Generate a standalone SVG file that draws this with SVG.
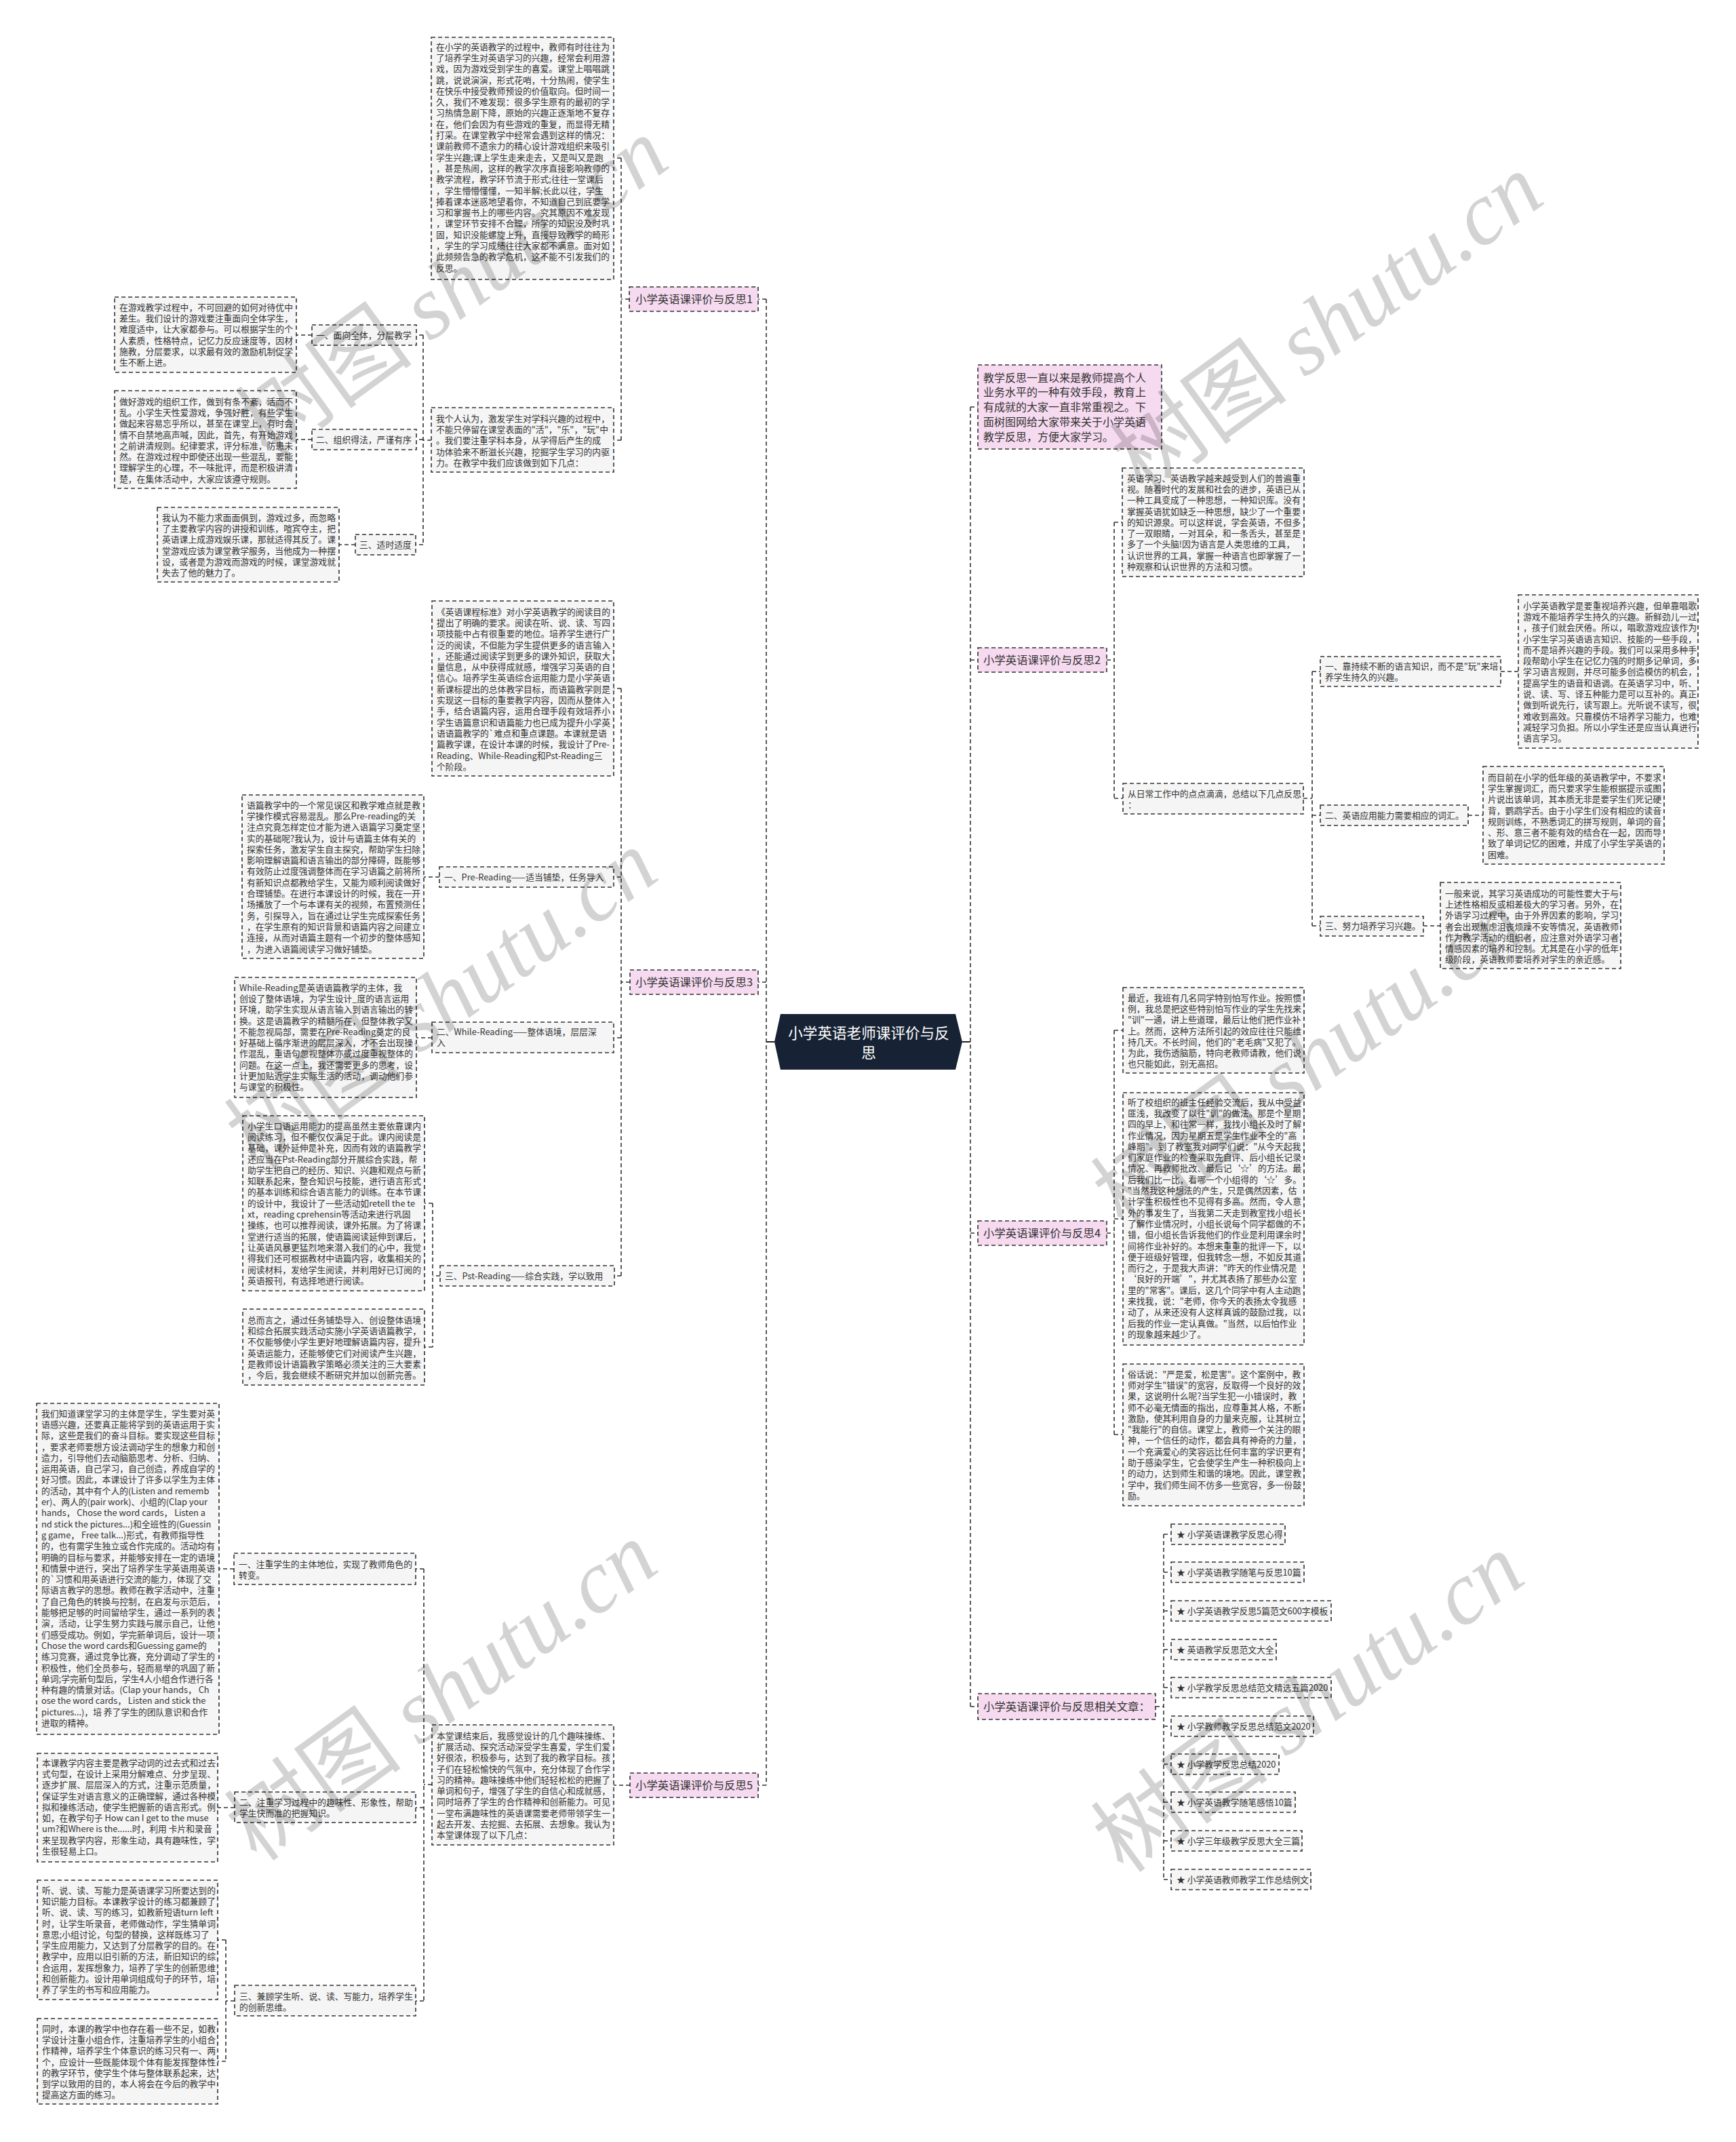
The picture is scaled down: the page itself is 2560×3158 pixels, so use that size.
<svg xmlns="http://www.w3.org/2000/svg" width="2560" height="3158" viewBox="0 0 2560 3158">
<style>
.box{fill:#f5f5f5;stroke:#333;stroke-width:1.6;stroke-dasharray:6 4}
.lab{fill:#f6daf0;stroke:#333;stroke-width:1.6;stroke-dasharray:6 4}
.t{font-family:"Noto Sans CJK SC","Microsoft YaHei",sans-serif;font-size:12.8px;fill:#333}
.tl{font-family:"Noto Sans CJK SC","Microsoft YaHei",sans-serif;font-size:16.4px;fill:#333}
.ti{font-family:"Noto Sans CJK SC","Microsoft YaHei",sans-serif;font-size:16px;fill:#333}
.tc{font-family:"Noto Sans CJK SC","Microsoft YaHei",sans-serif;font-size:21.6px;fill:#fff}
.ln{fill:none;stroke:#333;stroke-width:1.6;stroke-dasharray:6 4}
.sl{fill:none;stroke:#222;stroke-width:2}
.wm{font-family:"Noto Sans CJK SC","Liberation Serif",serif;font-size:132px;fill:#000;opacity:.17}
</style>
<rect width="2560" height="3158" fill="#fff"/>
<g id="connectors">
<path class="sl" d="M1142,1536 H1130 M1419,1536 H1431"/>
<path class="ln" d="M1130,441 V2632 M1130,441 H1118 M1130,1448 H1118 M1130,2632 H1118"/>
<path class="ln" d="M928,441 H916 M916,233 V649 M916,233 H905 M916,649 H905"/>
<path class="ln" d="M636,649 H624 M624,494 V803 M624,494 H614 M624,648 H614 M624,803 H613"/>
<path class="ln" d="M460,494 H437 M460,648 H437 M524,803 H500"/>
<path class="ln" d="M929,1448 H916 M916,1015 V1881 M916,1015 H905 M916,1293 H905 M916,1530 H905 M916,1881 H906"/>
<path class="ln" d="M648,1293 H625 M637,1530 H614 M649,1881 H638 M638,1774 V1986 M638,1774 H626 M638,1986 H626"/>
<path class="ln" d="M929,2632 H904 M637,2631 H625 M625,2313 V2950 M625,2313 H613 M625,2665 H613 M625,2950 H613"/>
<path class="ln" d="M345,2313 H323 M346,2665 H321 M346,2950 H333 M333,2860 V3039 M333,2860 H321 M333,3039 H321"/>
<path class="ln" d="M1431,600 V2516 M1431,600 H1442 M1431,973 H1442 M1431,1818 H1442 M1431,2516 H1442"/>
<path class="ln" d="M1632,973 H1643 M1643,770 V1177 M1643,770 H1655 M1643,1177 H1656"/>
<path class="ln" d="M1922,1177 H1935 M1935,990 V1365 M1935,990 H1947 M1935,1202 H1947 M1935,1365 H1947"/>
<path class="ln" d="M2213,990 H2239 M2165,1202 H2187 M2099,1365 H2124"/>
<path class="ln" d="M1632,1818 H1643 M1643,1519 V2115 M1643,1519 H1656 M1643,1797 H1656 M1643,2115 H1656"/>
<path class="ln" d="M1704,2516 H1716 M1716,2262 V2771 M1716,2262 H1727 M1716,2318 H1727 M1716,2375 H1727 M1716,2432 H1727 M1716,2488 H1727 M1716,2545 H1727 M1716,2601 H1727 M1716,2657 H1727 M1716,2714 H1727 M1716,2771 H1727"/>
</g>

<g id="center">
<polygon points="1142,1536 1151,1495 1409,1495 1419,1536 1409,1577 1151,1577" fill="#172334"/>
<text class="tc" text-anchor="middle"><tspan x="1281" y="1530.8">小学英语老师课评价与反</tspan><tspan x="1281" y="1559.8">思</tspan></text>
</g>

<g id="branch1">
<rect class="lab" x="928" y="423" width="190" height="36"/>
<text class="tl" x="937" y="446.9">小学英语课评价与反思1</text>
</g>
<g id="b1a">
<rect class="box" x="636" y="55" width="269" height="357"/>
<text class="t" x="643" y="73.6"><tspan x="643">在小学的英语教学的过程中，教师有时往往为</tspan><tspan x="643" dy="16.3">了培养学生对英语学习的兴趣，经常会利用游</tspan><tspan x="643" dy="16.3">戏，因为游戏受到学生的喜爱。课堂上唱唱跳</tspan><tspan x="643" dy="16.3">跳，说说演演，形式花哨，十分热闹，使学生</tspan><tspan x="643" dy="16.3">在快乐中接受教师预设的价值取向。但时间一</tspan><tspan x="643" dy="16.3">久，我们不难发现：很多学生原有的最初的学</tspan><tspan x="643" dy="16.3">习热情急剧下降，原始的兴趣正逐渐地不复存</tspan><tspan x="643" dy="16.3">在，他们会因为有些游戏的重复，而显得无精</tspan><tspan x="643" dy="16.3">打采。在课堂教学中经常会遇到这样的情况：</tspan><tspan x="643" dy="16.3">课前教师不遗余力的精心设计游戏组织来吸引</tspan><tspan x="643" dy="16.3">学生兴趣;课上学生走来走去，又是叫又是跑</tspan><tspan x="643" dy="16.3">，甚是热闹，这样的教学次序直接影响教师的</tspan><tspan x="643" dy="16.3">教学流程，教学环节流于形式;往往一堂课后</tspan><tspan x="643" dy="16.3">，学生懵懵懂懂，一知半解;长此以往，学生</tspan><tspan x="643" dy="16.3">捧着课本迷惑地望着你，不知道自己到底要学</tspan><tspan x="643" dy="16.3">习和掌握书上的哪些内容。究其原因不难发现</tspan><tspan x="643" dy="16.3">，课堂环节安排不合理，所学的知识没及时巩</tspan><tspan x="643" dy="16.3">固，知识没能螺旋上升，直接导致教学的畸形</tspan><tspan x="643" dy="16.3">，学生的学习成绩往往大家都不满意。面对如</tspan><tspan x="643" dy="16.3">此频频告急的教学危机，这不能不引发我们的</tspan><tspan x="643" dy="16.3">反思。</tspan></text>
</g>
<g id="b1d">
<rect class="box" x="636" y="601" width="269" height="95"/>
<text class="t" x="643" y="621.6"><tspan x="643">我个人认为，激发学生对学科兴趣的过程中，</tspan><tspan x="643" dy="16.3">不能只停留在课堂表面的"活"，"乐"，"玩"中</tspan><tspan x="643" dy="16.3">。我们要注重学科本身，从学得后产生的成</tspan><tspan x="643" dy="16.3">功体验来不断滋长兴趣，挖掘学生学习的内驱</tspan><tspan x="643" dy="16.3">力。在教学中我们应该做到如下几点：</tspan></text>
</g>
<g id="b1-1">
<rect class="box" x="460" y="479" width="154" height="30"/>
<text class="t" x="466" y="498.6">一、面向全体，分层教学</text>
</g>
<g id="b1b">
<rect class="box" x="169" y="438" width="268" height="111"/>
<text class="t" x="176" y="457.6"><tspan x="176">在游戏教学过程中，不可回避的如何对待优中</tspan><tspan x="176" dy="16.3">差生。我们设计的游戏要注重面向全体学生，</tspan><tspan x="176" dy="16.3">难度适中，让大家都参与。可以根据学生的个</tspan><tspan x="176" dy="16.3">人素质，性格特点，记忆力反应速度等，因材</tspan><tspan x="176" dy="16.3">施教，分层要求，以求最有效的激励机制促学</tspan><tspan x="176" dy="16.3">生不断上进。</tspan></text>
</g>
<g id="b1-2">
<rect class="box" x="460" y="633" width="154" height="30"/>
<text class="t" x="466" y="652.6">二、组织得法，严谨有序</text>
</g>
<g id="b1c">
<rect class="box" x="169" y="576" width="268" height="144"/>
<text class="t" x="176" y="596.6"><tspan x="176">做好游戏的组织工作，做到有条不紊，活而不</tspan><tspan x="176" dy="16.3">乱。小学生天性爱游戏，争强好胜，有些学生</tspan><tspan x="176" dy="16.3">做起来容易忘乎所以，甚至在课堂上，有时会</tspan><tspan x="176" dy="16.3">情不自禁地高声喊，因此，首先，有开始游戏</tspan><tspan x="176" dy="16.3">之前讲清规则。纪律要求，评分标准，防患未</tspan><tspan x="176" dy="16.3">然。在游戏过程中即使还出现一些混乱，要能</tspan><tspan x="176" dy="16.3">理解学生的心理，不一味批评，而是积极讲清</tspan><tspan x="176" dy="16.3">楚，在集体活动中，大家应该遵守规则。</tspan></text>
</g>
<g id="b1-3">
<rect class="box" x="524" y="788" width="89" height="30"/>
<text class="t" x="530" y="807.6">三、适时适度</text>
</g>
<g id="b1e">
<rect class="box" x="232" y="748" width="268" height="110"/>
<text class="t" x="239" y="767.6"><tspan x="239">我认为不能力求面面俱到，游戏过多，而忽略</tspan><tspan x="239" dy="16.3">了主要教学内容的讲授和训练，喧宾夺主，把</tspan><tspan x="239" dy="16.3">英语课上成游戏娱乐课，那就适得其反了。课</tspan><tspan x="239" dy="16.3">堂游戏应该为课堂教学服务，当他成为一种摆</tspan><tspan x="239" dy="16.3">设，或者是为游戏而游戏的时候，课堂游戏就</tspan><tspan x="239" dy="16.3">失去了他的魅力了。</tspan></text>
</g>

<g id="branch3">
<rect class="lab" x="929" y="1430" width="189" height="36"/>
<text class="tl" x="937" y="1453.9">小学英语课评价与反思3</text>
</g>
<g id="b3a">
<rect class="box" x="637" y="886" width="268" height="258"/>
<text class="t" x="644" y="906.6"><tspan x="644">《英语课程标准》对小学英语教学的阅读目的</tspan><tspan x="644" dy="16.3">提出了明确的要求。阅读在听、说、读、写四</tspan><tspan x="644" dy="16.3">项技能中占有很重要的地位。培养学生进行广</tspan><tspan x="644" dy="16.3">泛的阅读，不但能为学生提供更多的语言输入</tspan><tspan x="644" dy="16.3">，还能通过阅读学到更多的课外知识，获取大</tspan><tspan x="644" dy="16.3">量信息，从中获得成就感，增强学习英语的自</tspan><tspan x="644" dy="16.3">信心。培养学生英语综合运用能力是小学英语</tspan><tspan x="644" dy="16.3">新课标提出的总体教学目标，而语篇教学则是</tspan><tspan x="644" dy="16.3">实现这一目标的重要教学内容，因而从整体入</tspan><tspan x="644" dy="16.3">手，结合语篇内容，运用合理手段有效培养小</tspan><tspan x="644" dy="16.3">学生语篇意识和语篇能力也已成为提升小学英</tspan><tspan x="644" dy="16.3">语语篇教学的`难点和重点课题。本课就是语</tspan><tspan x="644" dy="16.3">篇教学课，在设计本课的时候，我设计了Pre-</tspan><tspan x="644" dy="16.3">Reading、While-Reading和Pst-Reading三</tspan><tspan x="644" dy="16.3">个阶段。</tspan></text>
</g>
<g id="b3-1">
<rect class="box" x="648" y="1278" width="257" height="30"/>
<text class="t" x="655" y="1297.6">一、Pre-Reading——适当铺垫，任务导入</text>
</g>
<g id="b3b">
<rect class="box" x="357" y="1172" width="268" height="241"/>
<text class="t" x="364" y="1191.6"><tspan x="364">语篇教学中的一个常见误区和教学难点就是教</tspan><tspan x="364" dy="16.3">学操作模式容易混乱。那么Pre-reading的关</tspan><tspan x="364" dy="16.3">注点究竟怎样定位才能为进入语篇学习奠定坚</tspan><tspan x="364" dy="16.3">实的基础呢?我认为，设计与语篇主体有关的</tspan><tspan x="364" dy="16.3">探索任务，激发学生自主探究，帮助学生扫除</tspan><tspan x="364" dy="16.3">影响理解语篇和语言输出的部分障碍，既能够</tspan><tspan x="364" dy="16.3">有效防止过度强调整体而在学习语篇之前将所</tspan><tspan x="364" dy="16.3">有新知识点都教给学生，又能为顺利阅读做好</tspan><tspan x="364" dy="16.3">合理铺垫。在进行本课设计的时候，我在一开</tspan><tspan x="364" dy="16.3">场播放了一个与本课有关的视频，布置预测任</tspan><tspan x="364" dy="16.3">务，引探导入，旨在通过让学生完成探索任务</tspan><tspan x="364" dy="16.3">，在学生原有的知识背景和语篇内容之间建立</tspan><tspan x="364" dy="16.3">连接，从而对语篇主题有一个初步的整体感知</tspan><tspan x="364" dy="16.3">，为进入语篇阅读学习做好铺垫。</tspan></text>
</g>
<g id="b3-2">
<rect class="box" x="637" y="1507" width="268" height="45"/>
<text class="t" x="644" y="1525.6"><tspan x="644">二、While-Reading——整体语境，层层深</tspan><tspan x="644" dy="16.3">入</tspan></text>
</g>
<g id="b3c">
<rect class="box" x="346" y="1441" width="268" height="177"/>
<text class="t" x="353" y="1460.6"><tspan x="353">While-Reading是英语语篇教学的主体，我</tspan><tspan x="353" dy="16.3">创设了整体语境，为学生设计_度的语言运用</tspan><tspan x="353" dy="16.3">环境，助学生实现从语言输入到语言输出的转</tspan><tspan x="353" dy="16.3">换。这是语篇教学的精髓所在，但整体教学又</tspan><tspan x="353" dy="16.3">不能忽视局部，需要在Pre-Reading奠定的良</tspan><tspan x="353" dy="16.3">好基础上循序渐进的层层深入，才不会出现操</tspan><tspan x="353" dy="16.3">作混乱，重语句忽视整体亦或过度重视整体的</tspan><tspan x="353" dy="16.3">问题。在这一点上，我还需要更多的思考，设</tspan><tspan x="353" dy="16.3">计更加贴近学生实际生活的活动，调动他们参</tspan><tspan x="353" dy="16.3">与课堂的积极性。</tspan></text>
</g>
<g id="b3-3">
<rect class="box" x="649" y="1866" width="257" height="30"/>
<text class="t" x="656" y="1885.6">三、Pst-Reading——综合实践，学以致用</text>
</g>
<g id="b3d">
<rect class="box" x="358" y="1645" width="268" height="258"/>
<text class="t" x="365" y="1664.6"><tspan x="365">小学生口语运用能力的提高虽然主要依靠课内</tspan><tspan x="365" dy="16.3">阅读练习，但不能仅仅满足于此。课内阅读是</tspan><tspan x="365" dy="16.3">基础，课外延伸是补充，因而有效的语篇教学</tspan><tspan x="365" dy="16.3">还应当在Pst-Reading部分开展综合实践，帮</tspan><tspan x="365" dy="16.3">助学生把自己的经历、知识、兴趣和观点与新</tspan><tspan x="365" dy="16.3">知联系起来，整合知识与技能，进行语言形式</tspan><tspan x="365" dy="16.3">的基本训练和综合语言能力的训练。在本节课</tspan><tspan x="365" dy="16.3">的设计中，我设计了一些活动如retell the te</tspan><tspan x="365" dy="16.3">xt，reading cprehensin等活动来进行巩固</tspan><tspan x="365" dy="16.3">操练，也可以推荐阅读，课外拓展。为了将课</tspan><tspan x="365" dy="16.3">堂进行适当的拓展，使语篇阅读延伸到课后，</tspan><tspan x="365" dy="16.3">让英语风暴更猛烈地来潜入我们的心中，我觉</tspan><tspan x="365" dy="16.3">得我们还可根据教材中语篇内容，收集相关的</tspan><tspan x="365" dy="16.3">阅读材料，发给学生阅读，并利用好已订阅的</tspan><tspan x="365" dy="16.3">英语报刊，有选择地进行阅读。</tspan></text>
</g>
<g id="b3e">
<rect class="box" x="358" y="1930" width="268" height="112"/>
<text class="t" x="365" y="1950.6"><tspan x="365">总而言之，通过任务铺垫导入、创设整体语境</tspan><tspan x="365" dy="16.3">和综合拓展实践活动实施小学英语语篇教学，</tspan><tspan x="365" dy="16.3">不仅能够使小学生更好地理解语篇内容，提升</tspan><tspan x="365" dy="16.3">英语运能力，还能够使它们对阅读产生兴趣，</tspan><tspan x="365" dy="16.3">是教师设计语篇教学策略必须关注的三大要素</tspan><tspan x="365" dy="16.3">，今后，我会继续不断研究并加以创新完善。</tspan></text>
</g>

<g id="branch5">
<rect class="lab" x="929" y="2614" width="189" height="36"/>
<text class="tl" x="937" y="2637.9">小学英语课评价与反思5</text>
</g>
<g id="b5d">
<rect class="box" x="637" y="2543" width="268" height="177"/>
<text class="t" x="644" y="2563.6"><tspan x="644">本堂课结束后，我感觉设计的几个趣味操练、</tspan><tspan x="644" dy="16.3">扩展活动、探究活动深受学生喜爱，学生们爱</tspan><tspan x="644" dy="16.3">好很浓，积极参与，达到了我的教学目标。孩</tspan><tspan x="644" dy="16.3">子们在轻松愉快的气氛中，充分体现了合作学</tspan><tspan x="644" dy="16.3">习的精神。趣味操练中他们轻轻松松的把握了</tspan><tspan x="644" dy="16.3">单词和句子，增强了学生的自信心和成就感，</tspan><tspan x="644" dy="16.3">同时培养了学生的合作精神和创新能力。可见</tspan><tspan x="644" dy="16.3">一堂布满趣味性的英语课需要老师带领学生一</tspan><tspan x="644" dy="16.3">起去开发、去挖掘、去拓展、去想象。我认为</tspan><tspan x="644" dy="16.3">本堂课体现了以下几点：</tspan></text>
</g>
<g id="b5-1">
<rect class="box" x="345" y="2290" width="268" height="46"/>
<text class="t" x="352" y="2310.6"><tspan x="352">一、注重学生的主体地位，实现了教师角色的</tspan><tspan x="352" dy="16.3">转变。</tspan></text>
</g>
<g id="b5a">
<rect class="box" x="54" y="2069" width="269" height="488"/>
<text class="t" x="61" y="2088.6"><tspan x="61">我们知道课堂学习的主体是学生，学生要对英</tspan><tspan x="61" dy="16.3">语感兴趣，还要真正能将学到的英语运用于实</tspan><tspan x="61" dy="16.3">际，这些是我们的奋斗目标。要实现这些目标</tspan><tspan x="61" dy="16.3">，要求老师要想方设法调动学生的想象力和创</tspan><tspan x="61" dy="16.3">造力，引导他们去动脑筋思考、分析、归纳、</tspan><tspan x="61" dy="16.3">运用英语，自己学习，自己创造，养成自学的</tspan><tspan x="61" dy="16.3">好习惯。因此，本课设计了许多以学生为主体</tspan><tspan x="61" dy="16.3">的活动，其中有个人的(Listen and rememb</tspan><tspan x="61" dy="16.3">er)、两人的(pair work)、小组的(Clap your</tspan><tspan x="61" dy="16.3">hands， Chose the word cards， Listen a</tspan><tspan x="61" dy="16.3">nd stick the pictures...)和全班性的(Guessin</tspan><tspan x="61" dy="16.3">g game， Free talk...)形式，有教师指导性</tspan><tspan x="61" dy="16.3">的，也有需学生独立或合作完成的。活动均有</tspan><tspan x="61" dy="16.3">明确的目标与要求，并能够安排在一定的语境</tspan><tspan x="61" dy="16.3">和情景中进行，突出了培养学生学英语用英语</tspan><tspan x="61" dy="16.3">的`习惯和用英语进行交流的能力，体现了交</tspan><tspan x="61" dy="16.3">际语言教学的思想。教师在教学活动中，注重</tspan><tspan x="61" dy="16.3">了自己角色的转换与控制，在启发与示范后，</tspan><tspan x="61" dy="16.3">能够把足够的时间留给学生，通过一系列的表</tspan><tspan x="61" dy="16.3">演，活动，让学生努力实践与展示自己，让他</tspan><tspan x="61" dy="16.3">们感受成功。例如，学完新单词后，设计一项</tspan><tspan x="61" dy="16.3">Chose the word cards和Guessing game的</tspan><tspan x="61" dy="16.3">练习竞赛，通过竞争比赛，充分调动了学生的</tspan><tspan x="61" dy="16.3">积极性，他们全员参与，轻而易举的巩固了新</tspan><tspan x="61" dy="16.3">单词;学完新句型后，学生4人小组合作进行各</tspan><tspan x="61" dy="16.3">种有趣的情景对话。(Clap your hands， Ch</tspan><tspan x="61" dy="16.3">ose the word cards， Listen and stick the</tspan><tspan x="61" dy="16.3">pictures...)，培 养了学生的团队意识和合作</tspan><tspan x="61" dy="16.3">进取的精神。</tspan></text>
</g>
<g id="b5-2">
<rect class="box" x="346" y="2642" width="267" height="45"/>
<text class="t" x="353" y="2661.6"><tspan x="353">二、注重学习过程中的趣味性、形象性，帮助</tspan><tspan x="353" dy="16.3">学生快而准的把握知识。</tspan></text>
</g>
<g id="b5b">
<rect class="box" x="55" y="2585" width="266" height="160"/>
<text class="t" x="62" y="2603.6"><tspan x="62">本课教学内容主要是教学动词的过去式和过去</tspan><tspan x="62" dy="16.3">式句型，在设计上采用分解难点、分步呈现、</tspan><tspan x="62" dy="16.3">逐步扩展、层层深入的方式，注重示范质量，</tspan><tspan x="62" dy="16.3">保证学生对语言意义的正确理解，通过各种模</tspan><tspan x="62" dy="16.3">拟和操练活动，使学生把握新的语言形式。例</tspan><tspan x="62" dy="16.3">如，在教学句子 How can I get to the muse</tspan><tspan x="62" dy="16.3">um?和Where is the......时，利用 卡片和录音</tspan><tspan x="62" dy="16.3">来呈现教学内容，形象生动，具有趣味性，学</tspan><tspan x="62" dy="16.3">生很轻易上口。</tspan></text>
</g>
<g id="b5-3">
<rect class="box" x="346" y="2927" width="267" height="45"/>
<text class="t" x="353" y="2947.6"><tspan x="353">三、兼顾学生听、说、读、写能力，培养学生</tspan><tspan x="353" dy="16.3">的创新思维。</tspan></text>
</g>
<g id="b5c">
<rect class="box" x="55" y="2772" width="266" height="176"/>
<text class="t" x="62" y="2791.6"><tspan x="62">听、说、读、写能力是英语课学习所要达到的</tspan><tspan x="62" dy="16.3">知识能力目标。本课教学设计的练习都兼顾了</tspan><tspan x="62" dy="16.3">听、说、读、写的练习，如教新短语turn left</tspan><tspan x="62" dy="16.3">时，让学生听录音，老师做动作，学生猜单词</tspan><tspan x="62" dy="16.3">意思;小组讨论，句型的替换，这样既练习了</tspan><tspan x="62" dy="16.3">学生应用能力，又达到了分层教学的目的。在</tspan><tspan x="62" dy="16.3">教学中，应用以旧引新的方法，新旧知识的综</tspan><tspan x="62" dy="16.3">合运用，发挥想象力，培养了学生的创新思维</tspan><tspan x="62" dy="16.3">和创新能力。设计用单词组成句子的环节，培</tspan><tspan x="62" dy="16.3">养了学生的书写和应用能力。</tspan></text>
</g>
<g id="b5e">
<rect class="box" x="55" y="2976" width="266" height="126"/>
<text class="t" x="62" y="2995.6"><tspan x="62">同时，本课的教学中也存在着一些不足，如教</tspan><tspan x="62" dy="16.3">学设计注重小组合作，注重培养学生的小组合</tspan><tspan x="62" dy="16.3">作精神，培养学生个体意识的练习只有一、两</tspan><tspan x="62" dy="16.3">个，应设计一些既能体现个体有能发挥整体性</tspan><tspan x="62" dy="16.3">的教学环节，使学生个体与整体联系起来，达</tspan><tspan x="62" dy="16.3">到学以致用的目的，本人将会在今后的教学中</tspan><tspan x="62" dy="16.3">提高这方面的练习。</tspan></text>
</g>

<g id="intro">
<rect class="lab" x="1442" y="538" width="271" height="124"/>
<text class="ti" x="1450" y="562.7"><tspan x="1450">教学反思一直以来是教师提高个人</tspan><tspan x="1450" dy="21.7">业务水平的一种有效手段，教育上</tspan><tspan x="1450" dy="21.7">有成就的大家一直非常重视之。下</tspan><tspan x="1450" dy="21.7">面树图网给大家带来关于小学英语</tspan><tspan x="1450" dy="21.7">教学反思，方便大家学习。</tspan></text>
</g>

<g id="branch2">
<rect class="lab" x="1442" y="955" width="190" height="36"/>
<text class="tl" x="1450" y="978.9">小学英语课评价与反思2</text>
</g>
<g id="r2a">
<rect class="box" x="1655" y="690" width="268" height="160"/>
<text class="t" x="1662" y="709.6"><tspan x="1662">英语学习、英语教学越来越受到人们的普遍重</tspan><tspan x="1662" dy="16.3">视。随着时代的发展和社会的进步，英语已从</tspan><tspan x="1662" dy="16.3">一种工具变成了一种思想，一种知识库。没有</tspan><tspan x="1662" dy="16.3">掌握英语犹如缺乏一种思想，缺少了一个重要</tspan><tspan x="1662" dy="16.3">的知识源泉。可以这样说，学会英语，不但多</tspan><tspan x="1662" dy="16.3">了一双眼睛，一对耳朵，和一条舌头，甚至是</tspan><tspan x="1662" dy="16.3">多了一个头脑!因为语言是人类思维的工具，</tspan><tspan x="1662" dy="16.3">认识世界的工具，掌握一种语言也即掌握了一</tspan><tspan x="1662" dy="16.3">种观察和认识世界的方法和习惯。</tspan></text>
</g>
<g id="r2s">
<rect class="box" x="1656" y="1155" width="266" height="45"/>
<text class="t" x="1663" y="1174.6"><tspan x="1663">从日常工作中的点点滴滴，总结以下几点反思</tspan><tspan x="1663" dy="16.3">：</tspan></text>
</g>
<g id="r2-1">
<rect class="box" x="1947" y="968" width="266" height="44"/>
<text class="t" x="1954" y="986.6"><tspan x="1954">一、靠持续不断的语言知识，而不是"玩"来培</tspan><tspan x="1954" dy="16.3">养学生持久的兴趣。</tspan></text>
</g>
<g id="r2b">
<rect class="box" x="2239" y="877" width="265" height="226"/>
<text class="t" x="2246" y="897.6"><tspan x="2246">小学英语教学是要重视培养兴趣，但单靠唱歌</tspan><tspan x="2246" dy="16.3">游戏不能培养学生持久的兴趣。新鲜劲儿一过</tspan><tspan x="2246" dy="16.3">，孩子们就会厌倦。所以，唱歌游戏应该作为</tspan><tspan x="2246" dy="16.3">小学生学习英语语言知识、技能的一些手段，</tspan><tspan x="2246" dy="16.3">而不是培养兴趣的手段。我们可以采用多种手</tspan><tspan x="2246" dy="16.3">段帮助小学生在记忆力强的时期多记单词，多</tspan><tspan x="2246" dy="16.3">学习语言规则，并尽可能多创造模仿的机会，</tspan><tspan x="2246" dy="16.3">提高学生的语音和语调。在英语学习中，听、</tspan><tspan x="2246" dy="16.3">说、读、写、译五种能力是可以互补的。真正</tspan><tspan x="2246" dy="16.3">做到听说先行，读写跟上。光听说不读写，很</tspan><tspan x="2246" dy="16.3">难收到高效。只靠模仿不培养学习能力，也难</tspan><tspan x="2246" dy="16.3">减轻学习负担。所以小学生还是应当认真进行</tspan><tspan x="2246" dy="16.3">语言学习。</tspan></text>
</g>
<g id="r2-2">
<rect class="box" x="1947" y="1187" width="218" height="30"/>
<text class="t" x="1954" y="1206.6">二、英语应用能力需要相应的词汇。</text>
</g>
<g id="r2c">
<rect class="box" x="2187" y="1130" width="267" height="144"/>
<text class="t" x="2194" y="1150.6"><tspan x="2194">而目前在小学的低年级的英语教学中，不要求</tspan><tspan x="2194" dy="16.3">学生掌握词汇，而只要求学生能根据提示或图</tspan><tspan x="2194" dy="16.3">片说出该单词，其本质无非是要学生们死记硬</tspan><tspan x="2194" dy="16.3">背，鹦鹉学舌。由于小学生们没有相应的读音</tspan><tspan x="2194" dy="16.3">规则训练，不熟悉词汇的拼写规则，单词的音</tspan><tspan x="2194" dy="16.3">、形、意三者不能有效的结合在一起，因而导</tspan><tspan x="2194" dy="16.3">致了单词记忆的困难，并成了小学生学英语的</tspan><tspan x="2194" dy="16.3">困难。</tspan></text>
</g>
<g id="r2-3">
<rect class="box" x="1947" y="1351" width="152" height="29"/>
<text class="t" x="1954" y="1369.6">三、努力培养学习兴趣。</text>
</g>
<g id="r2d">
<rect class="box" x="2124" y="1301" width="266" height="127"/>
<text class="t" x="2131" y="1321.6"><tspan x="2131">一般来说，其学习英语成功的可能性要大于与</tspan><tspan x="2131" dy="16.3">上述性格相反或相差极大的学习者。另外，在</tspan><tspan x="2131" dy="16.3">外语学习过程中，由于外界因素的影响，学习</tspan><tspan x="2131" dy="16.3">者会出现焦虑沮丧烦躁不安等情况，英语教师</tspan><tspan x="2131" dy="16.3">作为教学活动的组织者，应注意对外语学习者</tspan><tspan x="2131" dy="16.3">情感因素的培养和控制。尤其是在小学的低年</tspan><tspan x="2131" dy="16.3">级阶段，英语教师要培养对学生的亲近感。</tspan></text>
</g>

<g id="branch4">
<rect class="lab" x="1442" y="1800" width="190" height="36"/>
<text class="tl" x="1450" y="1823.9">小学英语课评价与反思4</text>
</g>
<g id="r4a">
<rect class="box" x="1656" y="1456" width="267" height="126"/>
<text class="t" x="1663" y="1475.6"><tspan x="1663">最近，我班有几名同学特别怕写作业。按照惯</tspan><tspan x="1663" dy="16.3">例，我总是把这些特别怕写作业的学生先找来</tspan><tspan x="1663" dy="16.3">"训"一通，讲上些道理，最后让他们把作业补</tspan><tspan x="1663" dy="16.3">上。然而，这种方法所引起的效应往往只能维</tspan><tspan x="1663" dy="16.3">持几天。不长时间，他们的"老毛病"又犯了。</tspan><tspan x="1663" dy="16.3">为此，我伤透脑筋，特向老教师请教，他们说</tspan><tspan x="1663" dy="16.3">也只能如此，别无高招。</tspan></text>
</g>
<g id="r4b">
<rect class="box" x="1656" y="1611" width="267" height="372"/>
<text class="t" x="1663" y="1629.6"><tspan x="1663">听了校组织的班主任经验交流后，我从中受益</tspan><tspan x="1663" dy="16.3">匪浅，我改变了以往"训"的做法。那是个星期</tspan><tspan x="1663" dy="16.3">四的早上，和往常一样，我找小组长及时了解</tspan><tspan x="1663" dy="16.3">作业情况，因为星期五是学生作业不全的"高</tspan><tspan x="1663" dy="16.3">峰期"。到了教室我对同学们说："从今天起我</tspan><tspan x="1663" dy="16.3">们家庭作业的检查采取先自评、后小组长记录</tspan><tspan x="1663" dy="16.3">情况、再教师批改、最后记‘☆’的方法。最</tspan><tspan x="1663" dy="16.3">后我们比一比，看哪一个小组得的‘☆’多。</tspan><tspan x="1663" dy="16.3">"当然我这种想法的产生，只是偶然因素，估</tspan><tspan x="1663" dy="16.3">计学生积极性也不见得有多高。然而，令人意</tspan><tspan x="1663" dy="16.3">外的事发生了，当我第二天走到教室找小组长</tspan><tspan x="1663" dy="16.3">了解作业情况时，小组长说每个同学都做的不</tspan><tspan x="1663" dy="16.3">错，但小组长告诉我他们的作业是利用课余时</tspan><tspan x="1663" dy="16.3">间将作业补好的。本想来重重的批评一下，以</tspan><tspan x="1663" dy="16.3">便于班级好管理，但我转念一想，不如反其道</tspan><tspan x="1663" dy="16.3">而行之，于是我大声讲："昨天的作业情况是</tspan><tspan x="1663" dy="16.3">‘良好的开端’"，并尤其表扬了那些办公室</tspan><tspan x="1663" dy="16.3">里的"常客"。课后，这几个同学中有人主动跑</tspan><tspan x="1663" dy="16.3">来找我，说："老师，你今天的表扬太令我感</tspan><tspan x="1663" dy="16.3">动了，从来还没有人这样真诚的鼓励过我，以</tspan><tspan x="1663" dy="16.3">后我的作业一定认真做。"当然，以后怕作业</tspan><tspan x="1663" dy="16.3">的现象越来越少了。</tspan></text>
</g>
<g id="r4c">
<rect class="box" x="1656" y="2011" width="267" height="209"/>
<text class="t" x="1663" y="2030.6"><tspan x="1663">俗话说："严是爱，松是害"。这个案例中，教</tspan><tspan x="1663" dy="16.3">师对学生"错误"的宽容，反取得一个良好的效</tspan><tspan x="1663" dy="16.3">果，这说明什么呢?当学生犯一小错误时，教</tspan><tspan x="1663" dy="16.3">师不必毫无情面的指出，应尊重其人格，不断</tspan><tspan x="1663" dy="16.3">激励，使其利用自身的力量来克服，让其树立</tspan><tspan x="1663" dy="16.3">"我能行"的自信。课堂上，教师一个关注的眼</tspan><tspan x="1663" dy="16.3">神，一个信任的动作，都会具有神奇的力量，</tspan><tspan x="1663" dy="16.3">一个充满爱心的笑容远比任何丰富的学识更有</tspan><tspan x="1663" dy="16.3">助于感染学生，它会使学生产生一种积极向上</tspan><tspan x="1663" dy="16.3">的动力，达到师生和谐的境地。因此，课堂教</tspan><tspan x="1663" dy="16.3">学中，我们师生间不仿多一些宽容，多一份鼓</tspan><tspan x="1663" dy="16.3">励。</tspan></text>
</g>

<g id="related">
<rect class="lab" x="1442" y="2497" width="262" height="38"/>
<text class="tl" x="1450" y="2521.9">小学英语课评价与反思相关文章：</text>
</g>
<g id="rel1"><rect class="box" x="1727" y="2247" width="168" height="30"/><text class="t" x="1735" y="2266.6">★ 小学英语课教学反思心得</text></g>
<g id="rel2"><rect class="box" x="1727" y="2303" width="196" height="30"/><text class="t" x="1735" y="2322.6">★ 小学英语教学随笔与反思10篇</text></g>
<g id="rel3"><rect class="box" x="1727" y="2360" width="236" height="30"/><text class="t" x="1735" y="2379.6">★ 小学英语教学反思5篇范文600字模板</text></g>
<g id="rel4"><rect class="box" x="1727" y="2417" width="155" height="30"/><text class="t" x="1735" y="2436.6">★ 英语教学反思范文大全</text></g>
<g id="rel5"><rect class="box" x="1727" y="2473" width="236" height="30"/><text class="t" x="1735" y="2492.6">★ 小学教学反思总结范文精选五篇2020</text></g>
<g id="rel6"><rect class="box" x="1727" y="2530" width="210" height="30"/><text class="t" x="1735" y="2549.6">★ 小学教师教学反思总结范文2020</text></g>
<g id="rel7"><rect class="box" x="1727" y="2586" width="159" height="30"/><text class="t" x="1735" y="2605.6">★ 小学教学反思总结2020</text></g>
<g id="rel8"><rect class="box" x="1727" y="2642" width="183" height="30"/><text class="t" x="1735" y="2661.6">★ 小学英语教学随笔感悟10篇</text></g>
<g id="rel9"><rect class="box" x="1727" y="2699" width="193" height="30"/><text class="t" x="1735" y="2718.6">★ 小学三年级教学反思大全三篇</text></g>
<g id="rel10"><rect class="box" x="1727" y="2756" width="206" height="30"/><text class="t" x="1735" y="2775.6">★ 小学英语教师教学工作总结例文</text></g>

<g id="watermarks">
<text class="wm" text-anchor="middle" transform="translate(668,425) rotate(-36)" y="44">树图 <tspan font-family="Liberation Serif" font-style="italic">shutu.cn</tspan></text>
<text class="wm" text-anchor="middle" transform="translate(1958,478) rotate(-36)" y="44">树图 <tspan font-family="Liberation Serif" font-style="italic">shutu.cn</tspan></text>
<text class="wm" text-anchor="middle" transform="translate(652,1475) rotate(-36)" y="44">树图 <tspan font-family="Liberation Serif" font-style="italic">shutu.cn</tspan></text>
<text class="wm" text-anchor="middle" transform="translate(1930,1562) rotate(-36)" y="44">树图 <tspan font-family="Liberation Serif" font-style="italic">shutu.cn</tspan></text>
<text class="wm" text-anchor="middle" transform="translate(652,2495) rotate(-36)" y="44">树图 <tspan font-family="Liberation Serif" font-style="italic">shutu.cn</tspan></text>
<text class="wm" text-anchor="middle" transform="translate(1930,2512) rotate(-36)" y="44">树图 <tspan font-family="Liberation Serif" font-style="italic">shutu.cn</tspan></text>
</g>
</svg>
